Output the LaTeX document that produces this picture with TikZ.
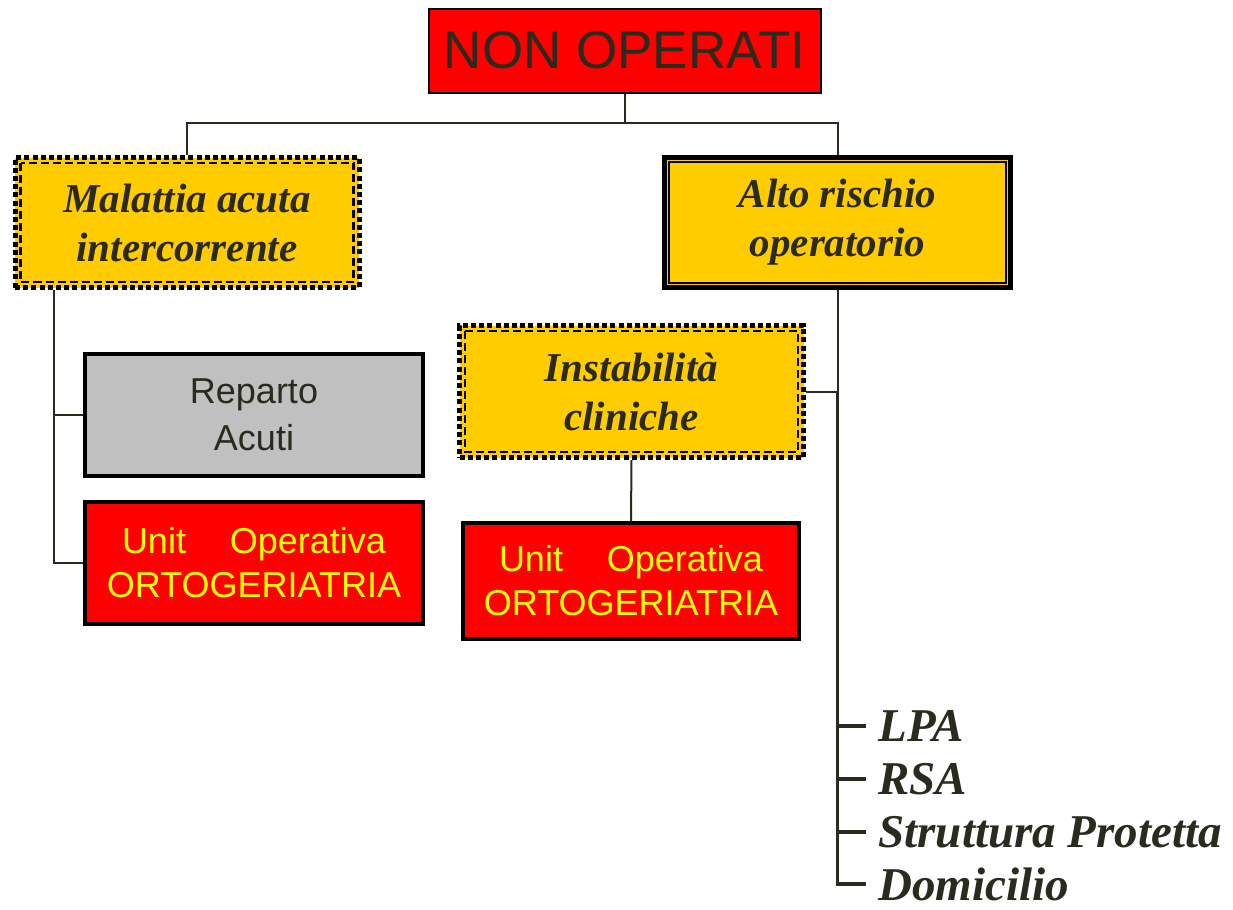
\documentclass[tikz,border=0pt]{standalone}
\usepackage{fontspec}
\setmainfont{Liberation Serif}
\setsansfont{Liberation Sans}

\definecolor{boxyellow}{HTML}{FFCC00}
\definecolor{boxred}{HTML}{FF0000}
\definecolor{boxgrey}{HTML}{C0C0C0}
\definecolor{txtdark}{HTML}{2A2A1E}
\definecolor{txtyellow}{HTML}{FFFF00}

\tikzset{
  box/.style={rectangle, inner sep=0pt, align=center},
  titlebox/.style={box, draw=black, line width=1pt, fill=boxred, text=txtdark,
    font=\sffamily\fontsize{26.5}{30}\selectfont},
  riskbox/.style={box, fill=boxyellow, text=txtdark,
    font=\bfseries\itshape\fontsize{20.5}{24.5}\selectfont},
  dashbox/.style={riskbox, draw=black, line width=2.5pt, dash pattern=on 2.5pt off 1.6pt},
  dashinner/.style={draw=black, line width=1.2pt, dash pattern=on 4pt off 2pt},
  framebox/.style={riskbox, draw=black, line width=2.5pt},
  frameinner/.style={draw=black, line width=1pt},
  wardbox/.style={box, draw=black, line width=2pt, fill=boxgrey, text=txtdark,
    font=\sffamily\fontsize{18}{23.5}\selectfont},
  unitbox/.style={box, draw=black, line width=2pt, fill=boxred, text=txtyellow,
    font=\sffamily\fontsize{18}{22}\selectfont},
  dest/.style={anchor=west, inner xsep=6pt, inner ysep=0pt, text=txtdark,
    font=\bfseries\itshape\fontsize{23.5}{26}\selectfont},
  link/.style={draw=txtdark, line width=1pt},
  trunk/.style={draw=txtdark, line width=1.6pt},
}

\begin{document}
\begin{tikzpicture}[x=0.5pt, y=-0.5pt]
  \useasboundingbox (0,0) rectangle (1233,910);

  \node[titlebox, minimum width=196pt, minimum height=42pt] (non) at (624.5,50.5) {NON OPERATI};

  \node[dashbox, minimum width=172pt, minimum height=65pt] (mal) at (187,222.5) {Malattia acuta\\intercorrente};
  \node[framebox, minimum width=173pt, minimum height=65pt] (alto) at (837.5,222.5) {Alto rischio\\operatorio};
  \node[dashbox, minimum width=172pt, minimum height=66pt] (inst) at (631.5,391.5) {Instabilità\\cliniche};

  \node[wardbox, minimum width=169pt, minimum height=61pt] (rep) at (254,415) {Reparto\\Acuti};
  \node[unitbox, minimum width=169pt, minimum height=61pt] (uo1) at (254,562.5)
    {\makebox[132pt]{Unit\hfill Operativa}\\ORTOGERIATRIA};
  \node[unitbox, minimum width=168pt, minimum height=58pt] (uo2) at (631,581)
    {\makebox[132pt]{Unit\hfill Operativa}\\ORTOGERIATRIA};

  \node[dest] (lpa) at (866,726) {LPA};
  \node[dest] (rsa) at (866,779) {RSA};
  \node[dest] (str) at (866,832) {Struttura Protetta};
  \node[dest] (dom) at (866,884) {Domicilio};

  \foreach \b in {mal,inst}
    \draw[dashinner] ([shift={(4pt,-4pt)}]\b.north west) rectangle ([shift={(-4pt,4pt)}]\b.south east);
  \draw[frameinner] ([shift={(3.5pt,-3.5pt)}]alto.north west) rectangle ([shift={(-3.5pt,3.5pt)}]alto.south east);

  \coordinate (bar) at (624.5,123);
  \draw[link] (non.south) -- (bar);
  \draw[link] (mal.north) |- (bar) -| (alto.north);

  \draw[link] ([xshift=20.5pt]mal.south west) |- (rep.west);
  \draw[link] ([xshift=20.5pt]mal.south west) |- (uo1.west);

  \draw[link] (alto.south) |- (inst.east);
  \draw[link] (inst.south) -- (uo2.north);

  \draw[trunk] (inst.east -| alto.south) |- (dom.west);
  \foreach \n in {lpa,rsa,str}
    \draw[trunk] (alto.south |- \n.west) -- (\n.west);
\end{tikzpicture}
\end{document}
